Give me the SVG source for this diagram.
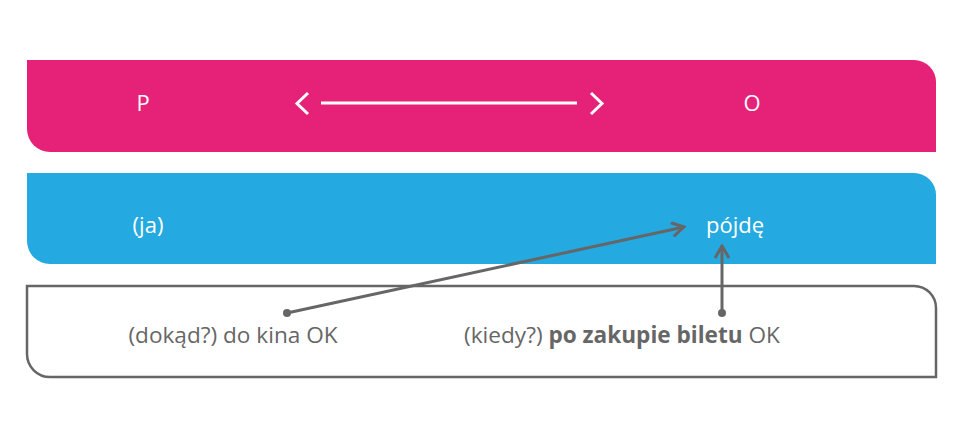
<svg xmlns="http://www.w3.org/2000/svg" width="960" height="429" viewBox="0 0 960 429">
<style>
  .lbl { font-family: "Open Sans", "Noto Sans", sans-serif; font-size: 22px; }
  .big { font-size: 22.6px; }
  .w { fill: #ffffff; }
  .g { fill: #666666; }
  .conn { stroke: #666666; stroke-width: 3; fill: none; }
</style>
<defs>
  <marker id="arr" viewBox="0 0 16 16" refX="14" refY="8" markerWidth="16" markerHeight="16" markerUnits="userSpaceOnUse" orient="auto">
    <path d="M2,1 L14,8 L2,15" fill="none" stroke="#666666" stroke-width="3"/>
  </marker>
</defs>
<rect width="960" height="429" fill="#ffffff"/>
<g id="row-po">
  <path d="M27,60 H914 A22,22 0 0 1 936,82 V152 H50 A23,23 0 0 1 27,129 Z" fill="#e62178"/>
  <text class="lbl w" x="143" y="111" text-anchor="middle">P</text>
  <text class="lbl w" x="752" y="111" text-anchor="middle">O</text>
  <g stroke="#ffffff" stroke-width="3" fill="none">
    <line x1="321" y1="103" x2="577" y2="103"/>
    <polyline points="308,93 297,103.5 308,114"/>
    <polyline points="591,93 602,103.5 591,114"/>
  </g>
</g>
<g id="row-subject">
  <path d="M27,173 H914 A22,22 0 0 1 936,195 V264 H50 A23,23 0 0 1 27,241 Z" fill="#24a9e0"/>
  <text class="lbl w" x="148" y="233" text-anchor="middle">(ja)</text>
  <text class="lbl w" x="735" y="233" text-anchor="middle">pójdę</text>
</g>
<g id="row-adjuncts">
  <path d="M27,286 H914 A22,22 0 0 1 936,308 V377 H50 A23,23 0 0 1 27,354 Z" fill="#ffffff" stroke="#666666" stroke-width="2.5"/>
  <text class="lbl big g" x="233" y="343" text-anchor="middle">(dokąd?) do kina OK</text>
  <text class="lbl big g" x="622" y="343" text-anchor="middle">(kiedy?) <tspan font-weight="bold">po zakupie biletu</tspan> OK</text>
</g>
<g id="connectors">
  <circle cx="287" cy="313" r="4" fill="#666666"/>
  <line class="conn" x1="287" y1="313" x2="684" y2="227" marker-end="url(#arr)"/>
  <circle cx="722" cy="313" r="4" fill="#666666"/>
  <line class="conn" x1="722" y1="313" x2="722" y2="246" marker-end="url(#arr)"/>
</g>
</svg>
